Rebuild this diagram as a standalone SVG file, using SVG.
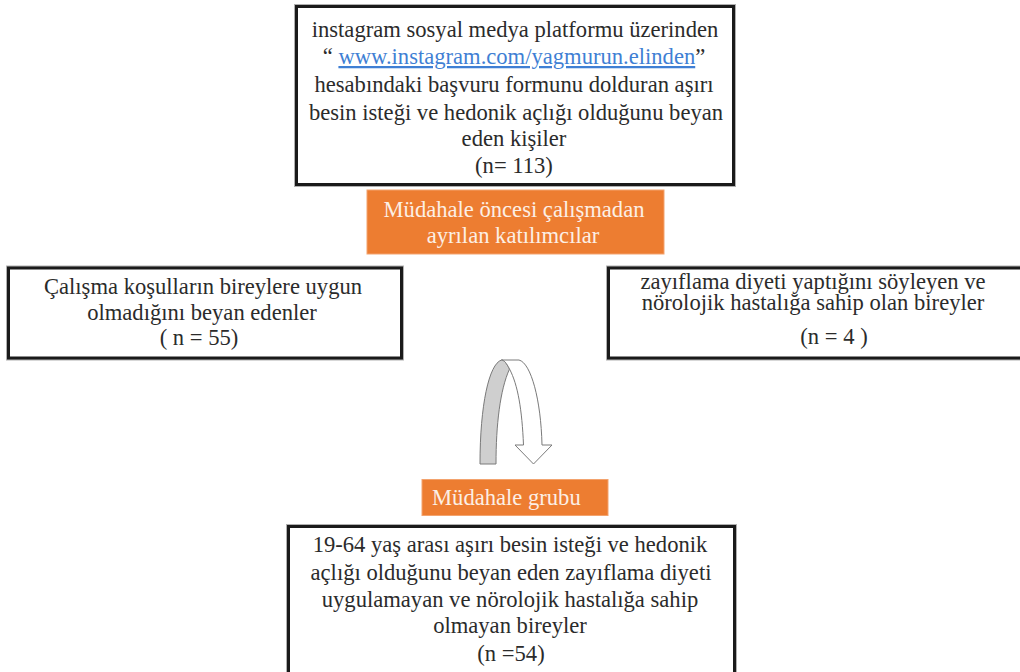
<svg xmlns="http://www.w3.org/2000/svg" width="1020" height="672" viewBox="0 0 1020 672">
<style>
  .halo { fill: #ffffff; stroke: #b0b0b0; stroke-width: 5; }
  .box { fill: #ffffff; stroke: #1a1a1a; stroke-width: 3; }
  .orange { fill: #ED7D31; stroke: #f3a36e; stroke-width: 1; }
  .t { font-family: "Liberation Serif", "Times New Roman", serif; font-size: 22.6px; fill: #2b2b2b; text-anchor: middle; }
  .w { font-family: "Liberation Serif", "Times New Roman", serif; font-size: 22.6px; fill: #fcefe5; }
  .link { fill: #3f7fd4; text-decoration: underline; }
</style>
<rect width="1020" height="672" fill="#ffffff"/>

<g id="node-top">
  <rect class="halo" x="296.5" y="6.5" width="437" height="178"/>
  <rect class="box" x="296.5" y="6.5" width="437" height="178"/>
  <text class="t" x="515" y="37">instagram sosyal medya platformu üzerinden</text>
  <text class="t" x="514" y="64">“ <tspan class="link">www.instagram.com/yagmurun.elinden</tspan>”</text>
  <text class="t" x="514" y="92">hesabındaki başvuru formunu dolduran aşırı</text>
  <text class="t" x="516" y="120">besin isteği ve hedonik açlığı olduğunu beyan</text>
  <text class="t" x="514" y="146">eden kişiler</text>
  <text class="t" x="514" y="173">(n= 113)</text>
</g>

<g id="node-excluded-label">
  <rect class="orange" x="367" y="190" width="297" height="64"/>
  <text class="w" x="514" y="217" text-anchor="middle">Müdahale öncesi çalışmadan</text>
  <text class="w" x="513" y="243" text-anchor="middle">ayrılan katılımcılar</text>
</g>

<g id="node-left">
  <rect class="halo" x="8.5" y="268" width="393" height="90"/>
  <rect class="box" x="8.5" y="268" width="393" height="90"/>
  <text class="t" x="203" y="294">Çalışma koşulların bireylere uygun</text>
  <text class="t" x="202" y="320">olmadığını  beyan edenler</text>
  <text class="t" x="199" y="345">( n = 55)</text>
</g>

<g id="node-right">
  <rect class="halo" x="608.5" y="268" width="414" height="90"/>
  <rect class="box" x="608.5" y="268" width="414" height="90"/>
  <text class="t" x="813" y="289">zayıflama diyeti yaptığını  söyleyen ve</text>
  <text class="t" x="813" y="310">nörolojik hastalığa sahip olan bireyler</text>
  <text class="t" x="834" y="344">(n = 4 )</text>
</g>

<g id="connectors">
  <path d="M480,464 L496,464 C496,425 500,390 509.5,369 C506.5,363 504,360 501.5,360 C489,364 480,405 480,464 Z" fill="#cfcfcf" stroke="#7a7a7a" stroke-width="1"/>
  <path d="M501.5,360 L519,360 C531,363 541,400 542,445 L552,445 L533.5,464 L515,445 L523.5,445 C522,410 518,385 509.5,369 C506.5,363 504,360 501.5,360 Z" fill="#ffffff" stroke="#7a7a7a" stroke-width="1"/>
</g>

<g id="node-group-label">
  <rect class="orange" x="422" y="479.5" width="186" height="36"/>
  <text class="w" x="432" y="505">Müdahale grubu</text>
</g>

<g id="node-bottom">
  <rect class="halo" x="288.5" y="526.5" width="446" height="160"/>
  <rect class="box" x="288.5" y="526.5" width="446" height="160"/>
  <text class="t" x="510" y="552">19-64 yaş arası aşırı besin isteği ve hedonik</text>
  <text class="t" x="511" y="580">açlığı olduğunu beyan eden zayıflama diyeti</text>
  <text class="t" x="510" y="607">uygulamayan ve nörolojik hastalığa sahip</text>
  <text class="t" x="510" y="633">olmayan bireyler</text>
  <text class="t" x="511" y="661">(n =54)</text>
</g>
</svg>
